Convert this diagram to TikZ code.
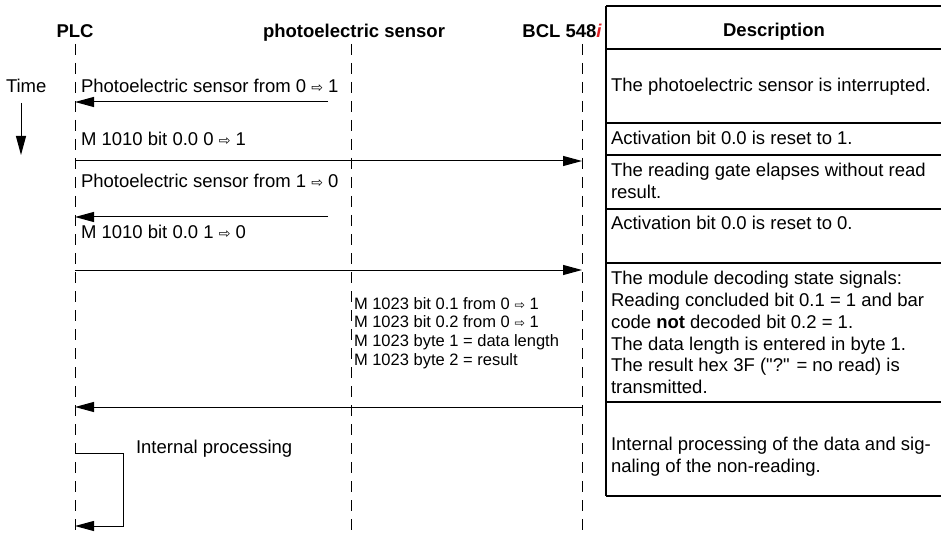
\documentclass[tikz,border=0pt]{standalone}
\usepackage{fontspec}
\setmainfont{Liberation Sans}
\newfontfamily\symfont{DejaVu Sans}
\usetikzlibrary{arrows.meta}
\definecolor{bclred}{RGB}{225,30,35}
\newcommand\wa{{\symfont\fontsize{14}{14}\selectfont ⇨}}
\newcommand\wb{{\symfont\fontsize{12.5}{12.5}\selectfont ⇨}}
\begin{document}
\begin{tikzpicture}[x=1pt,y=-1pt,
  every node/.style={inner sep=0pt,outer sep=0pt},
  txt/.style={anchor=base west,font=\fontsize{18.5}{22}\selectfont},
  hdr/.style={anchor=base,font=\fontsize{18.5}{22}\selectfont\bfseries},
  smalltxt/.style={anchor=north west,font=\fontsize{16.5}{18.7}\selectfont,align=left},
  cell/.style={anchor=north west,font=\fontsize{18.5}{21.8}\selectfont,align=left},
  life/.style={line width=0.9pt,dash pattern=on 11pt off 8pt},
  msg/.style={line width=1pt,-{Triangle[length=19pt,width=10pt]}},
  gridline/.style={line width=1.1pt}]
\useasboundingbox (0,0) rectangle (941,537);

% headers
\node[hdr] (hplc) at (75,37.5) {PLC};
\node[hdr] (hsen) at (354,37.5) {photoelectric sensor};
\node[hdr] (hbcl) at (562,37.5) {BCL 548{\color{bclred}\itshape i}};
\node[hdr] (hdesc) at (774,37) {Description};

% lifelines
\coordinate (plcT) at (75,44);  \coordinate (plcB) at (75,537);
\coordinate (senT) at (351,44); \coordinate (senB) at (351,537);
\coordinate (bclT) at (582,44); \coordinate (bclB) at (582,537);
\draw[life] (plcT) -- (plcB);
\draw[life] (senT) -- (senB);
\draw[life] (bclT) -- (bclB);

% time
\node[txt] (time) at (6,92.6) {Time};
\coordinate (t1) at (21,103); \coordinate (t2) at (21,155);
\draw[msg] (t1) -- (t2);

% messages
\coordinate (a1s) at (328,102); \coordinate (a1e) at (75,102);
\coordinate (a2s) at (75,161);  \coordinate (a2e) at (582,161);
\coordinate (a3s) at (328,217); \coordinate (a3e) at (75,217);
\coordinate (a4s) at (75,270);  \coordinate (a4e) at (582,270);
\coordinate (a5s) at (582,407); \coordinate (a5e) at (75,407);
\draw[msg] (a1s) -- (a1e);
\draw[msg] (a2s) -- (a2e);
\draw[msg] (a3s) -- (a3e);
\draw[msg] (a4s) -- (a4e);
\draw[msg] (a5s) -- (a5e);

\node[txt] (m1) at (81,92.6) {Photoelectric sensor from 0 \wa{} 1};
\node[txt] (m2) at (81,145.6) {M 1010 bit 0.0 0 \wa{} 1};
\node[txt] (m3) at (81,187.6) {Photoelectric sensor from 1 \wa{} 0};
\node[txt] (m4) at (81,238.6) {M 1010 bit 0.0 1 \wa{} 0};
\node[smalltxt] (m5) at (354,297.2) {M 1023 bit 0.1 from 0 \wb{} 1\\M 1023 bit 0.2 from 0 \wb{} 1\\M 1023 byte 1 = data length\\M 1023 byte 2 = result};

% internal processing loop
\node[txt] (ip) at (136,453.6) {Internal processing};
\coordinate (l1) at (75,453); \coordinate (l2) at (123,453);
\coordinate (l3) at (123,526); \coordinate (l4) at (75,526);
\draw[msg] (l1) -- (l2) -- (l3) -- (l4);

% description table
\coordinate (tl) at (606,6); \coordinate (bl) at (606,496);
\draw[gridline] (tl) -- (bl);
\draw[gridline] (606,6) -- (941,6);
\draw[gridline] (606,49) -- (941,49);
\draw[gridline] (606,123) -- (941,123);
\draw[gridline] (606,155) -- (941,155);
\draw[gridline] (606,209) -- (941,209);
\draw[gridline] (606,263) -- (941,263);
\draw[gridline] (606,402) -- (941,402);
\draw[line width=2pt] (606,496) -- (941,496);

\node[txt] (d1) at (611,91.6) {The photoelectric sensor is interrupted.};
\node[txt] (d2) at (611,144.6) {Activation bit 0.0 is reset to 1.};
\node[cell] (d3) at (611,163.3) {The reading gate elapses without read\\result.};
\node[txt] (d4) at (611,229.6) {Activation bit 0.0 is reset to 0.};
\node[cell] (d5) at (611,271.3) {The module decoding state signals:\\Reading concluded bit 0.1 = 1 and bar\\code \textbf{not} decoded bit 0.2 = 1.\\The data length is entered in byte 1.\\The result hex 3F (\textquotedbl?\textquotedbl{} = no read) is\\transmitted.};
\node[cell] (d6) at (611,437.3) {Internal processing of the data and sig-\\naling of the non-reading.};
\end{tikzpicture}
\end{document}
